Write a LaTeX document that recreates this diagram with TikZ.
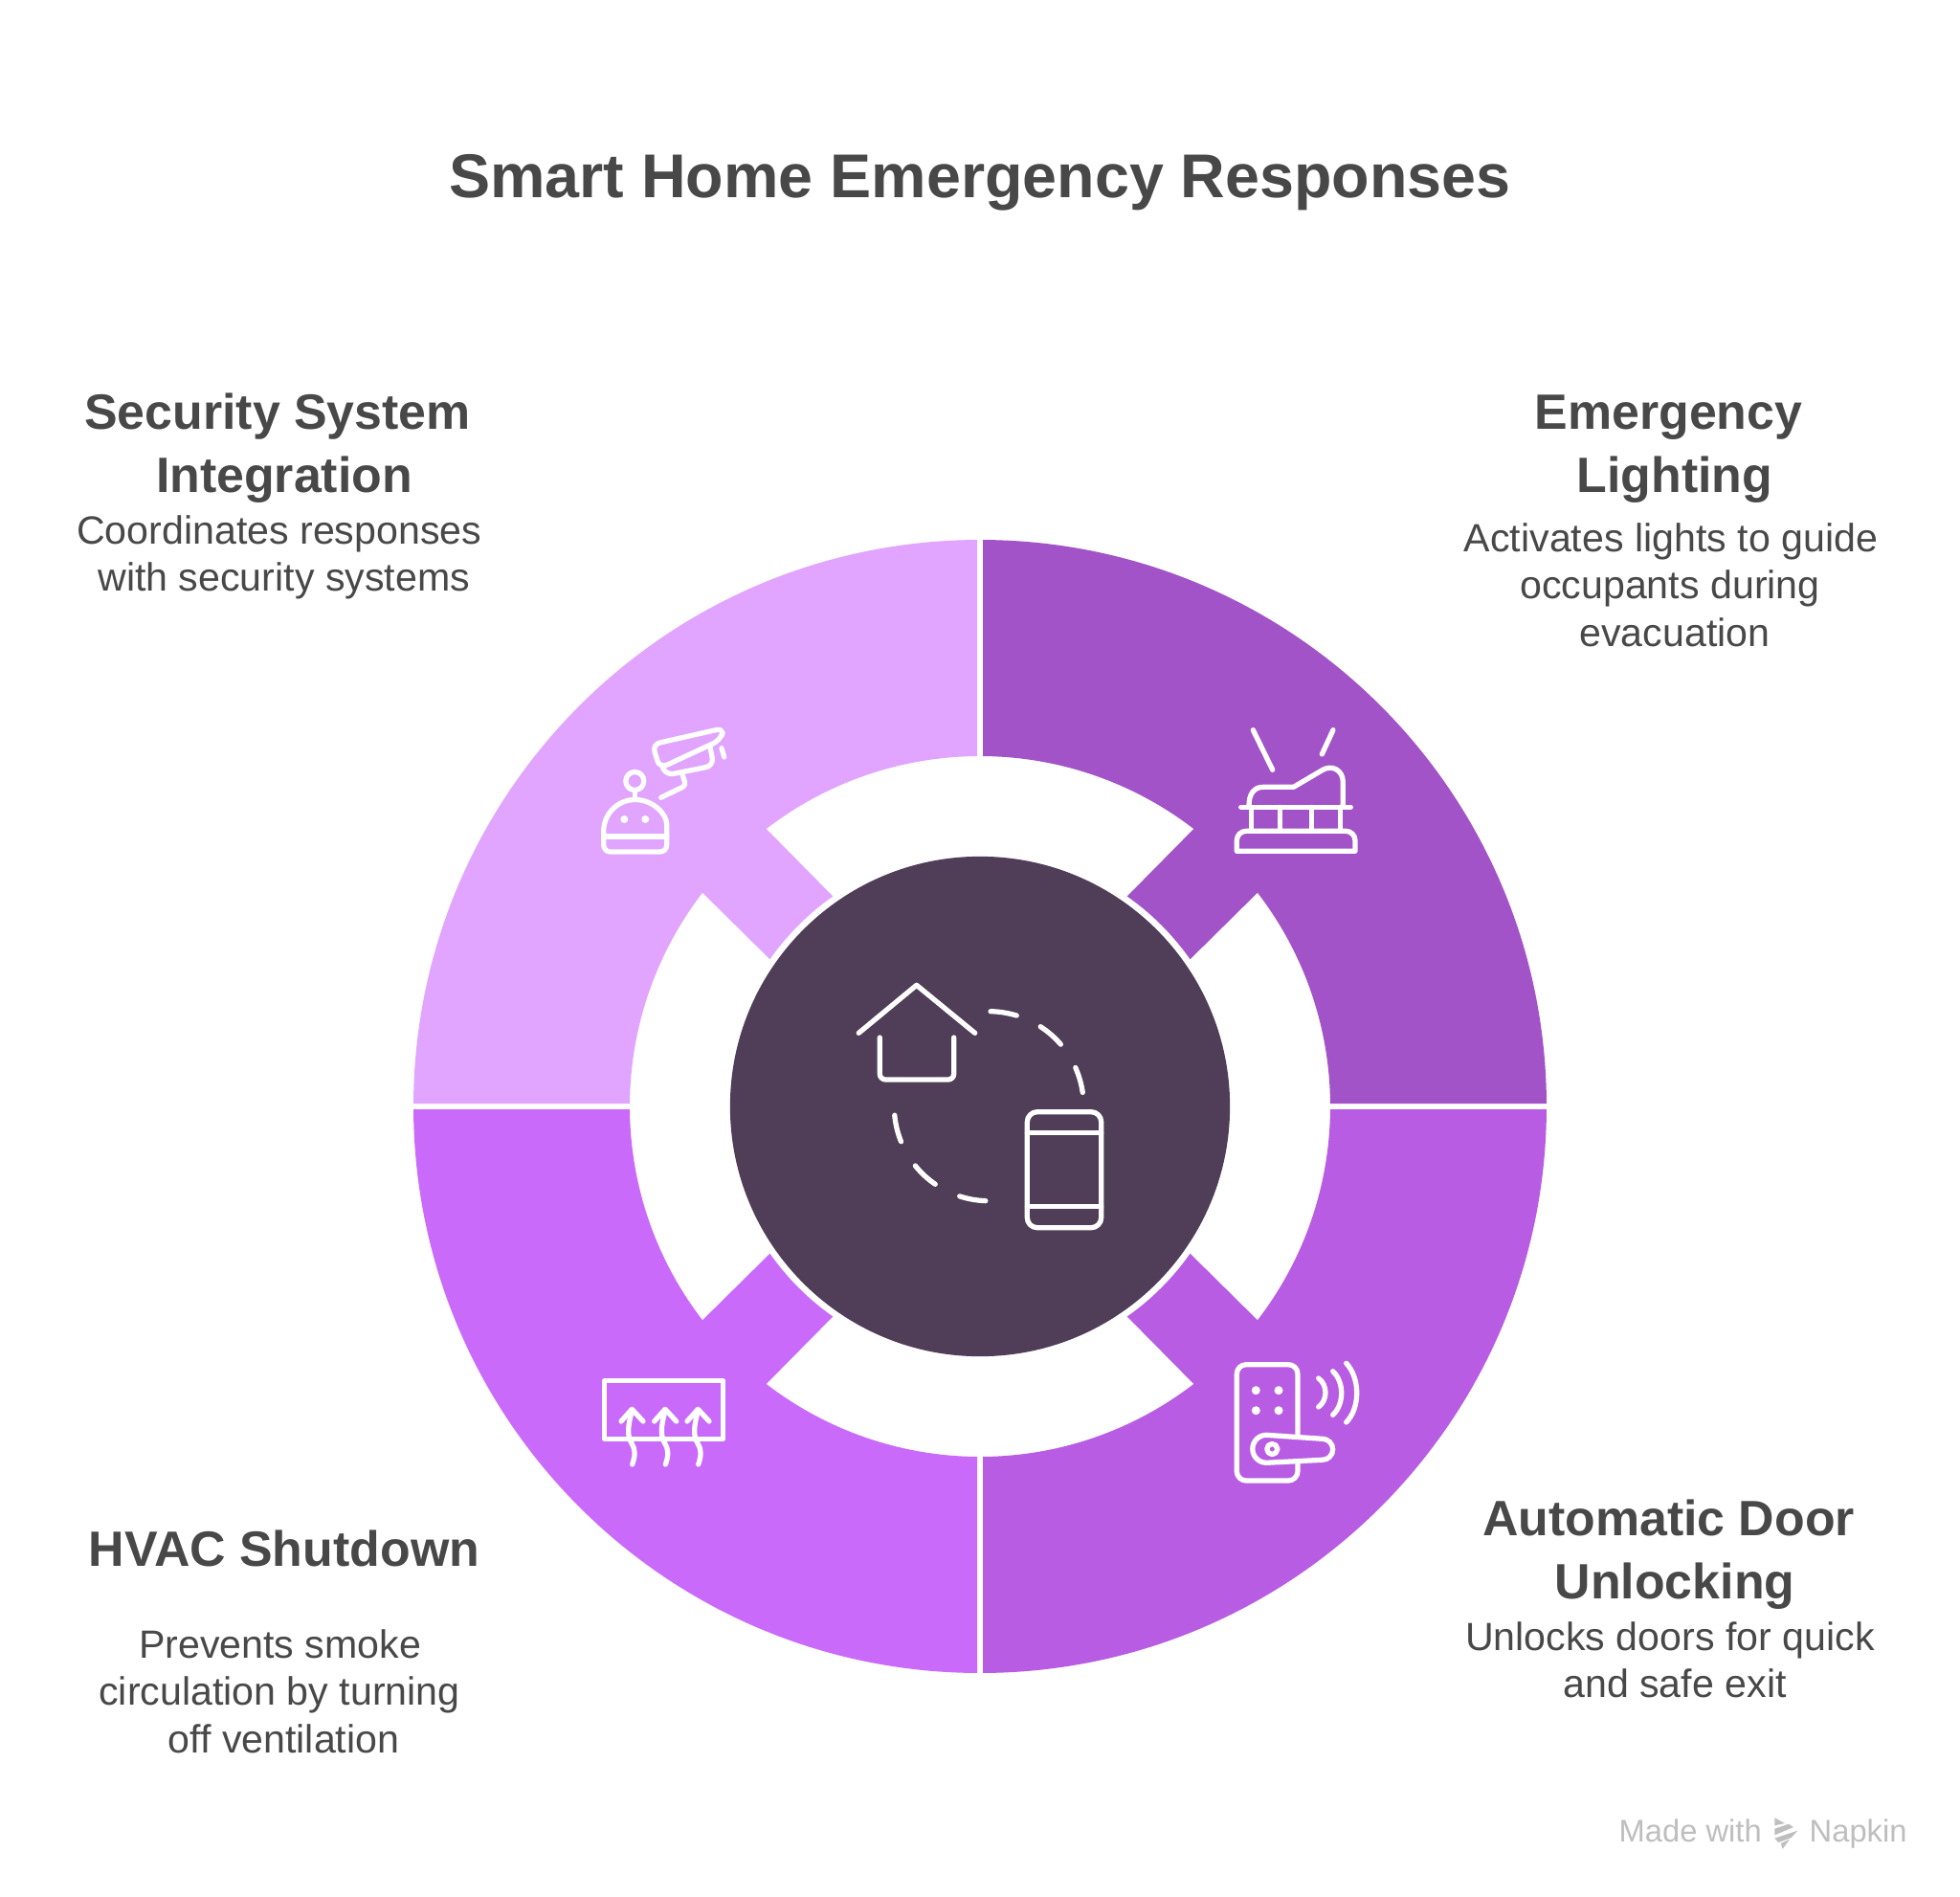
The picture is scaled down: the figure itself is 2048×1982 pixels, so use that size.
\documentclass[tikz,border=0pt]{standalone}
\usepackage{fontspec}
\setmainfont{Liberation Sans}
\definecolor{secpurple}{HTML}{E1A4FF}
\definecolor{lightpurple}{HTML}{A353C8}
\definecolor{doorpurple}{HTML}{B85DE3}
\definecolor{hvacpurple}{HTML}{C96AFA}
\definecolor{hubdark}{HTML}{503D58}
\definecolor{textgrey}{HTML}{484848}
\definecolor{markgrey}{HTML}{BEBEBE}
\tikzset{
  iconline/.style={draw=white,line width=1.5pt,line cap=round,line join=round},
  titletext/.style={anchor=base,text=textgrey,inner sep=0pt,font=\fontsize{18.37}{22}\selectfont\bfseries},
  headtext/.style={anchor=base,text=textgrey,inner sep=0pt,font=\fontsize{14.75}{17}\selectfont\bfseries},
  bodytext/.style={anchor=base,text=textgrey,inner sep=0pt,font=\fontsize{11.7}{14}\selectfont},
  marktext/.style={anchor=base west,text=markgrey,inner sep=0pt,font=\fontsize{9.3}{11}\selectfont},
}
\begin{document}
\begin{tikzpicture}[x=0.01cm,y=-0.01cm]
\useasboundingbox (0,0) rectangle (2048,1982);
\fill[white] (0,0) rectangle (2048,1982);
\node[titletext] (title) at (1024,206) {Smart Home Emergency Responses};
\foreach \ang/\col in {0/lightpurple,90/secpurple,180/hvacpurple,270/doorpurple}{
  \begin{scope}[shift={(1024,1156)},rotate=\ang,y=0.01cm]
    \fill[\col] (89.53:366) -- (89.71:592) arc[start angle=89.71,end angle=0.29,radius=592]
      -- (0.47:366) arc[start angle=0.47,end angle=37.6,radius=366]
      -- (35:268) arc[start angle=35,end angle=55,radius=268]
      -- (52.4:366) arc[start angle=52.4,end angle=89.53,radius=366] -- cycle;
  \end{scope}
}
\node[circle,fill=hubdark,minimum size=5.22cm,inner sep=0pt] (hub) at (1024,1156) {};
\foreach \n/\x/\y/\txt in {sec1/290/448/Security System,sec2/297/514/Integration,
  emg1/1743.5/448/Emergency,emg2/1750/514/Lighting,
  door1/1743.5/1604/Automatic Door,door2/1750/1670/Unlocking,
  hvac1/297/1636/HVAC Shutdown}{
  \node[headtext] (\n) at (\x,\y) {\txt};
}
\foreach \n/\x/\y/\txt in {secb1/291.7/568/Coordinates responses,secb2/296.7/617/with security systems,
  emgb1/1746/576/Activates lights to guide,emgb2/1745/625.5/occupants during,emgb3/1750/675/evacuation,
  doorb1/1745/1724/Unlocks doors for quick,doorb2/1750/1773/and safe exit,
  hvacb1/292.5/1732/Prevents smoke,hvacb2/292/1781.5/circulation by turning,hvacb3/296.5/1831/off ventilation}{
  \node[bodytext] (\n) at (\x,\y) {\txt};
}
\draw[iconline] (897.3,1079.3) -- (957.7,1029.3) -- (1018.7,1079.3);
\draw[iconline,rounded corners=1.7pt] (919.3,1084) -- (919.3,1128) -- (996.7,1128) -- (996.7,1084);
\draw[iconline,rounded corners=3pt] (1073.3,1161.7) rectangle (1150.7,1282.7);
\draw[iconline] (1073.3,1183.7) -- (1150.7,1183.7);
\draw[iconline] (1073.3,1260.7) -- (1150.7,1260.7);
\begin{scope}[shift={(1033.3,1155.7)},y=0.01cm]
  \foreach \a/\b in {89/73,57/40.7,24/8.3,185.5/202,219/235.5,252/268}{
    \draw[iconline] (\a:99) arc[start angle=\a,end angle=\b,radius=99];
  }
\end{scope}
\draw[iconline] (696.7,868.5) arc[start angle=0,end angle=-180,radius=33]
  [rounded corners=2pt] -- (630.7,890) -- (696.7,890) -- cycle;
\draw[iconline] (630.7,874) -- (696.7,874);
\fill[white] (652.3,856) circle[radius=4];
\fill[white] (674.3,856) circle[radius=4];
\draw[iconline] (663.3,816) circle[radius=9.5];
\draw[iconline] (663.3,826) -- (663.3,835.5);
\draw[iconline,rounded corners=2.3pt] (689.3,802.7) -- (681.7,777.7) -- (756.7,760.7) -- (752.7,773.3) -- cycle;
\draw[iconline,rounded corners=2.3pt] (693.3,804) -- (695.7,810) -- (745.7,800) -- (742.3,781.7);
\draw[iconline,rounded corners=1pt] (713.3,810) -- (716.7,820.7) -- (690.7,833.3);
\draw[iconline] (754,781.7) -- (756.7,791);
\draw[iconline] (1309.3,762.7) -- (1329.7,804.3);
\draw[iconline] (1393,762.7) -- (1381.3,788);
\draw[iconline] (1305,841.7) .. controls (1305,830) and (1310,822.3) .. (1320,822.3) -- (1351.7,822.3)
  -- (1381,805) .. controls (1392,798) and (1403.3,805) .. (1403.3,817) -- (1403.3,841.7);
\draw[iconline] (1296.7,843.3) -- (1411.3,843.3);
\foreach \x in {1307.3,1337.3,1370.7,1400.7}{
  \draw[iconline] (\x,843.3) -- (\x,867.3);
}
\draw[iconline] (1292.3,889.3) [rounded corners=2.8pt] -- (1292.3,868.3) -- (1416,868.3) [sharp corners] -- (1416,889.3) -- cycle;
\draw[iconline,rounded corners=2.8pt] (1356,1498) -- (1356,1425.7) -- (1292.3,1425.7) -- (1292.3,1547) -- (1356,1547) -- (1356,1529);
\foreach \x/\y in {1312.3/1452.7,1336/1452.7,1312.3/1473.7,1336/1473.7}{
  \fill[white] (\x,\y) circle[radius=4.5];
}
\draw[iconline] (1323.3,1499.3) -- (1381.7,1503.3) arc[start angle=-90,end angle=90,radius=11]
  -- (1323.3,1528.3) arc[start angle=90,end angle=270,radius=14.5] -- cycle;
\draw[iconline] (1329.3,1514) circle[radius=5.5];
\draw[iconline] (1377.7,1440) .. controls (1387.4,1447) and (1387.4,1463) .. (1377.7,1470);
\draw[iconline] (1392.7,1432.7) .. controls (1404.7,1444) and (1404.7,1467) .. (1392.7,1478.3);
\draw[iconline] (1406.7,1424.3) .. controls (1421.4,1440) and (1421.4,1471) .. (1406.7,1486);
\draw[iconline] (631.7,1442.7) rectangle (755.7,1503.3);
\foreach \dx in {0,34.7,69}{
  \begin{scope}[xshift=\dx*0.01cm]
    \draw[iconline] (649,1485) -- (660.3,1472.3) -- (672,1485);
    \draw[iconline] (660.3,1474) .. controls (656,1490) and (655,1500) .. (660,1508)
      .. controls (664,1515) and (664,1520) .. (660.7,1530);
  \end{scope}
}
\node[marktext] (madewith) at (1691,1924) {Made with};
\node[marktext] (napkin) at (1890,1924) {Napkin};
\fill[markgrey] (1854.3,1899.3) -- (1865,1905) -- (1854.3,1907.3) -- cycle;
\fill[markgrey] (1854.3,1910.7) -- (1869,1905.7) -- (1874,1909) -- (1854.3,1917.3) -- cycle;
\fill[markgrey] (1854.3,1920.7) -- (1878.3,1912.7) -- (1871.7,1920) -- (1858.3,1925) -- cycle;
\fill[markgrey] (1860.7,1926) -- (1870,1921.7) -- (1862.7,1931.7) -- cycle;
\end{tikzpicture}
\end{document}
